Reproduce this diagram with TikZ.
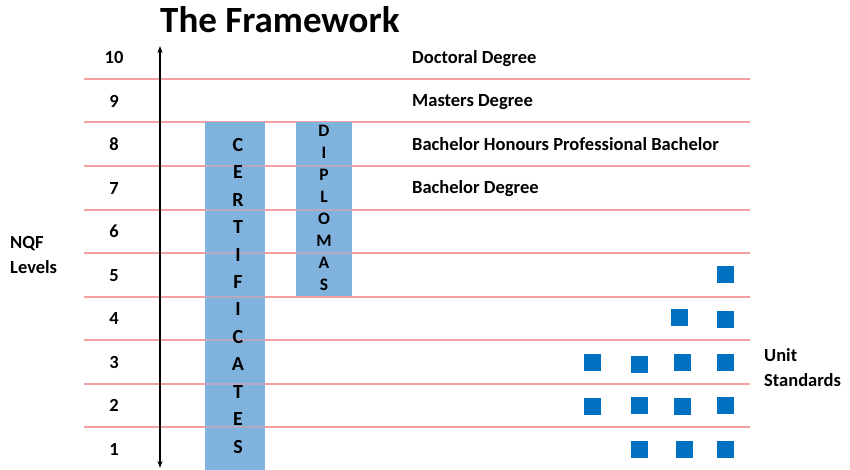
\documentclass[tikz,border=0pt]{standalone}
\usepackage{fontspec}
\setmainfont{Carlito}
\usetikzlibrary{arrows.meta}
\definecolor{barblue}{RGB}{127,179,222}
\definecolor{unitblue}{RGB}{0,112,192}
\definecolor{gridred}{RGB}{245,160,160}
\tikzset{
  gridline/.style={draw=gridred, line width=1.1pt},
  txt/.style={font=\bfseries\fontsize{18.5}{22}\selectfont, inner sep=0pt},
  lvlnum/.style={txt, anchor=base},
  qual/.style={txt, anchor=base west},
  barbox/.style={fill=barblue, draw=none, inner sep=0pt},
  certletter/.style={font=\bfseries\fontsize{20}{22}\selectfont, inner sep=0pt, text height=0.64em, text depth=0pt},
  dipletter/.style={font=\bfseries\fontsize{17.5}{20}\selectfont, inner sep=0pt, text height=0.64em, text depth=0pt},
  unitsq/.style={fill=unitblue, draw=none, minimum size=17pt, inner sep=0pt},
}
\begin{document}
\begin{tikzpicture}[x=1pt,y=-1pt]
\useasboundingbox (0,0) rectangle (850,470);
% grid lines
\foreach \yy in {79,122,166,210,253,297,340,384,427}
  \draw[gridline] (84,\yy) -- (750,\yy);
% bars
\node[barbox, minimum width=60pt, minimum height=348pt, anchor=north west] (cert) at (205,122) {};
\node[barbox, minimum width=56pt, minimum height=174pt, anchor=north west] (dipl) at (296,122) {};
% grid lines showing through bars
\foreach \yy in {166,210,253,297,340,384,427}
  \draw[gridline, opacity=0.5] (205,\yy) -- (265,\yy);
\foreach \yy in {166,210,253}
  \draw[gridline, opacity=0.5] (296,\yy) -- (352,\yy);
% title
\node[font=\bfseries\fontsize{37}{40}\selectfont, inner sep=0pt, anchor=base west] (title) at (160,33) {The Framework};
% level numbers
\foreach \L in {1,...,10}
  \node[lvlnum] (n\L) at (114, {455.2-(\L-1)*43.5}) {\L};
% axis arrow
\coordinate (atop) at (160,46);
\coordinate (abot) at (160,468);
\draw[{Stealth[length=7pt,width=5pt]}-{Stealth[length=7pt,width=5pt]}, line width=1.6pt] (abot) -- (atop);
% qualifications
\node[qual] (doc) at (412,63.5) {Doctoral Degree};
\node[qual] (mas) at (412,107) {Masters Degree};
\node[qual] (hon) at (412,150.5) {Bachelor Honours Professional Bachelor};
\node[qual] (bac) at (412,194) {Bachelor Degree};
% NQF levels
\node[qual] (nqf) at (10,248) {NQF};
\node[qual] (lev) at (10,273) {Levels};
% unit standards
\node[qual] (unit) at (764,361.7) {Unit};
\node[qual] (std) at (764,386.7) {Standards};
% certificate letters
\foreach \l [count=\i] in {C,E,R,T,I,F,I,C,A,T,E,S}
  \node[certletter] (c\i) at (238, {148+(\i-1)*27.45}) {\l};
% diploma letters
\foreach \l [count=\i] in {D,I,P,L,O,M,A,S}
  \node[dipletter] (d\i) at (324, {133+(\i-1)*22}) {\l};
% unit standard squares
\node[unitsq] (u51) at (725,274.5) {};
\node[unitsq] (u41) at (679.5,317.5) {};
\node[unitsq] (u42) at (725,319) {};
\node[unitsq] (u31) at (592.7,362.8) {};
\node[unitsq] (u32) at (639.3,364) {};
\node[unitsq] (u33) at (682,362.8) {};
\node[unitsq] (u34) at (725,362.8) {};
\node[unitsq] (u21) at (592.7,406.7) {};
\node[unitsq] (u22) at (639.3,405.5) {};
\node[unitsq] (u23) at (682,406.7) {};
\node[unitsq] (u24) at (725,405.5) {};
\node[unitsq] (u11) at (639.3,449.7) {};
\node[unitsq] (u12) at (684.7,449.7) {};
\node[unitsq] (u13) at (725,449.7) {};
\end{tikzpicture}
\end{document}
